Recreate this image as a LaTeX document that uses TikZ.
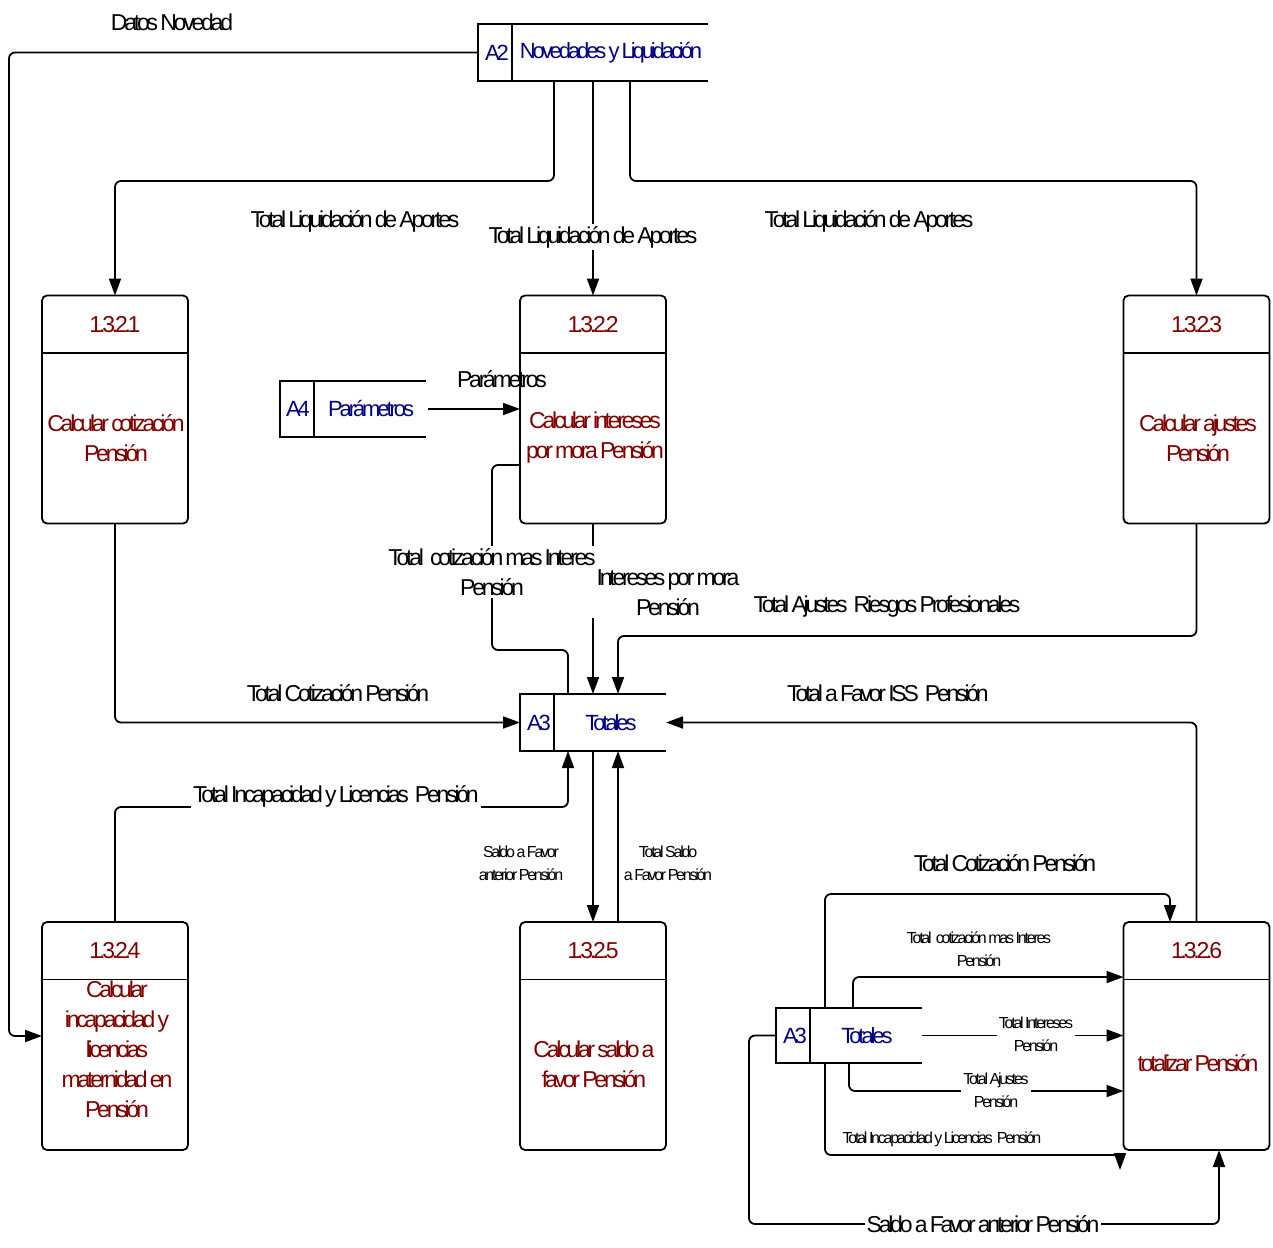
\documentclass[tikz,border=0pt]{standalone}
\usepackage{fontspec}
\setmainfont{Liberation Sans}[LetterSpace=-14, WordSpace=0.7]
\usetikzlibrary{arrows.meta}
\definecolor{procred}{RGB}{128,0,0}
\definecolor{storeblue}{RGB}{0,0,128}

\tikzset{
  box/.style={draw, line width=1.8pt, rounded corners=5pt, minimum width=146pt,
              minimum height=228pt, outer sep=0pt, inner sep=0pt},
  store/.style={inner sep=0pt, outer sep=0pt},
  edge/.style={line width=1.8pt},
  flow/.style={line width=1.8pt, rounded corners=6pt, -{Triangle[length=17pt,width=12pt]}},
  plain/.style={line width=1.8pt, rounded corners=6pt},
  big/.style={font=\fontsize{23}{30}\selectfont},
  small/.style={font=\fontsize{16}{23}\selectfont},
  lbl/.style={big, fill=white, inner sep=2pt, align=center},
  slbl/.style={small, fill=white, inner sep=2pt, align=center},
  ptxt/.style={big, text=procred, align=center},
  stxt/.style={font=\fontsize{22}{28}\selectfont, text=storeblue},
}

\begin{document}
\begin{tikzpicture}[x=1pt,y=-1pt]
\useasboundingbox (0,0) rectangle (1273,1247);

% ---------- processes ----------
\node[box] (p1) at (115,409.5) {};
\node[box] (p2) at (593,409.5) {};
\node[box] (p3) at (1196.5,409.5) {};
\node[box] (p4) at (115,1036) {};
\node[box] (p5) at (593,1036) {};
\node[box] (p6) at (1196.5,1036) {};
\foreach \p in {p1,p2,p3,p4,p5,p6}
  \draw[edge] ([yshift=-57.5]\p.north west) -- ([yshift=-57.5]\p.north east);

\node[ptxt] (p1num) at ([yshift=-29]p1.north) {1.3.2.1};
\node[ptxt] (p2num) at ([yshift=-29]p2.north) {1.3.2.2};
\node[ptxt] (p3num) at ([yshift=-29]p3.north) {1.3.2.3};
\node[ptxt] (p4num) at ([yshift=-29]p4.north) {1.3.2.4};
\node[ptxt] (p5num) at ([yshift=-29]p5.north) {1.3.2.5};
\node[ptxt] (p6num) at ([yshift=-29]p6.north) {1.3.2.6};

\node[ptxt] (p1txt) at (116,438) {Calcular cotización\\Pensión};
\node[ptxt] (p2txt) at (595,438) {Calcular intereses\\por mora Pensión};
\node[ptxt] (p3txt) at (1198,438) {Calcular ajustes\\Pensión};
\node[ptxt] (p4txt) at (117,1049) {Calcular\\incapacidad y\\licencias\\maternidad en\\Pensión};
\node[ptxt] (p5txt) at (594,1064) {Calcular saldo a\\favor Pensión};
\node[ptxt] (p6txt) at (1198,1063) {totalizar Pensión};

% ---------- data stores ----------
\node[store, minimum width=230pt, minimum height=57pt] (s2) at (593,52.5) {};
\node[store, minimum width=146pt, minimum height=56pt] (s4) at (353,409) {};
\node[store, minimum width=146pt, minimum height=57pt] (s3) at (593,722.5) {};
\node[store, minimum width=146pt, minimum height=55pt] (s3b) at (849,1035.5) {};
\foreach \s in {s2,s4,s3,s3b}{
  \draw[edge] (\s.north east) -- (\s.north west) -- (\s.south west) -- (\s.south east);
  \draw[edge] ([xshift=34]\s.north west) -- ([xshift=34]\s.south west);
}
\node[stxt] (s2id) at ([xshift=19]s2.west) {A2};
\node[stxt] (s2name) at (611,52.5) {Novedades y Liquidación};
\node[stxt] (s4id) at ([xshift=18]s4.west) {A4};
\node[stxt] (s4name) at (371,409) {Parámetros};
\node[stxt] (s3id) at ([xshift=19]s3.west) {A3};
\node[stxt] (s3name) at (611,722.5) {Totales};
\node[stxt] (s3bid) at ([xshift=19]s3b.west) {A3};
\node[stxt] (s3bname) at (867,1035.5) {Totales};

% ---------- flows ----------
\draw[flow] (s2.west) -| (9,1036) -- (p4.west);
\draw[flow] ([xshift=-39]s2.south) |- (115,181) -- (p1.north);
\draw[flow] (s2.south) -- (p2.north);
\draw[flow] ([xshift=37]s2.south) |- (1196.5,181) -- (p3.north);
\draw[flow] ([xshift=2]s4.east) -- (p2.west |- s4.east);
\draw[plain] ([yshift=-55.5]p2.west) -| (492,650) -| ([xshift=-25]s3.north);
\draw[flow] (p2.south) -- (s3.north);
\draw[flow] (p3.south) |- (618,636) -- ([xshift=25]s3.north);
\draw[flow] (p1.south) |- (s3.west);
\draw[flow] (p6.north) |- (s3.east);
\draw[flow] (p4.north) |- (568,807) -- ([xshift=-25]s3.south);
\draw[flow] (s3.south) -- (p5.north);
\draw[flow] ([xshift=25]p5.north) -- ([xshift=25]s3.south);

\draw[flow] ([xshift=-24]s3b.north) |- (1170,894) -- ([xshift=-26.5]p6.north);
\draw[flow] ([xshift=4]s3b.north) |- ([yshift=59]p6.west);
\draw[flow] (s3b.east) -- (p6.west |- s3b.east);
\draw[flow] (s3b.south) |- ([yshift=-55]p6.west);
\coordinate (incend) at (1120,1170);
\draw[plain] ([xshift=-24]s3b.south) |- (1120,1155);
\draw[flow, rounded corners=0pt] (1114,1155) -- (1120,1155) -- (incend);
\draw[flow] (s3b.west) -| (749,1224) -| ([xshift=22.5]p6.south);

% ---------- flow labels ----------
\node[big] (l1) at (172,22) {Datos Novedad};
\node[big] (l2) at (355,221) {Total Liquidación de Aportes};
\node[lbl] (l3) at (593,237) {Total Liquidación de Aportes};
\node[big] (l4) at (869,221) {Total Liquidación de Aportes};
\node[big] (l5) at (502,379) {Parámetros};
\node[lbl] (l6) at (492,572) {Total\, cotización mas Interes\\Pensión};
\node[lbl, minimum width=162pt] (l7) at (668,593) {Intereses por mora\\Pensión};
\node[big] (l8) at (887,607) {Total Ajustes\, Riesgos Profesionales};
\node[big] (l9) at (338,693) {Total Cotización Pensión};
\node[big] (l10) at (888,693) {Total a Favor ISS\, Pensión};
\node[lbl, inner ysep=4pt] (l11) at (336,796) {Total Incapacidad y Licencias\, Pensión};
\node[slbl] (l12) at (521,863) {Saldo a Favor\\anterior Pensión};
\node[slbl] (l13) at (668,863) {Total Saldo\\a Favor Pensión};
\node[big] (l14) at (1005,863) {Total Cotización Pensión};
\node[slbl] (l15) at (979,949) {Total\, cotización mas Interes\\Pensión};
\node[slbl] (l16) at (1036,1034) {Total Intereses\\Pensión};
\node[slbl] (l17) at (996,1090) {Total Ajustes\\Pensión};
\node[small] (l18) at (942,1139) {Total Incapacidad y Licencias\, Pensión};
\node[lbl] (l19) at (983,1224) {Saldo a Favor anterior Pensión};
\end{tikzpicture}
\end{document}
